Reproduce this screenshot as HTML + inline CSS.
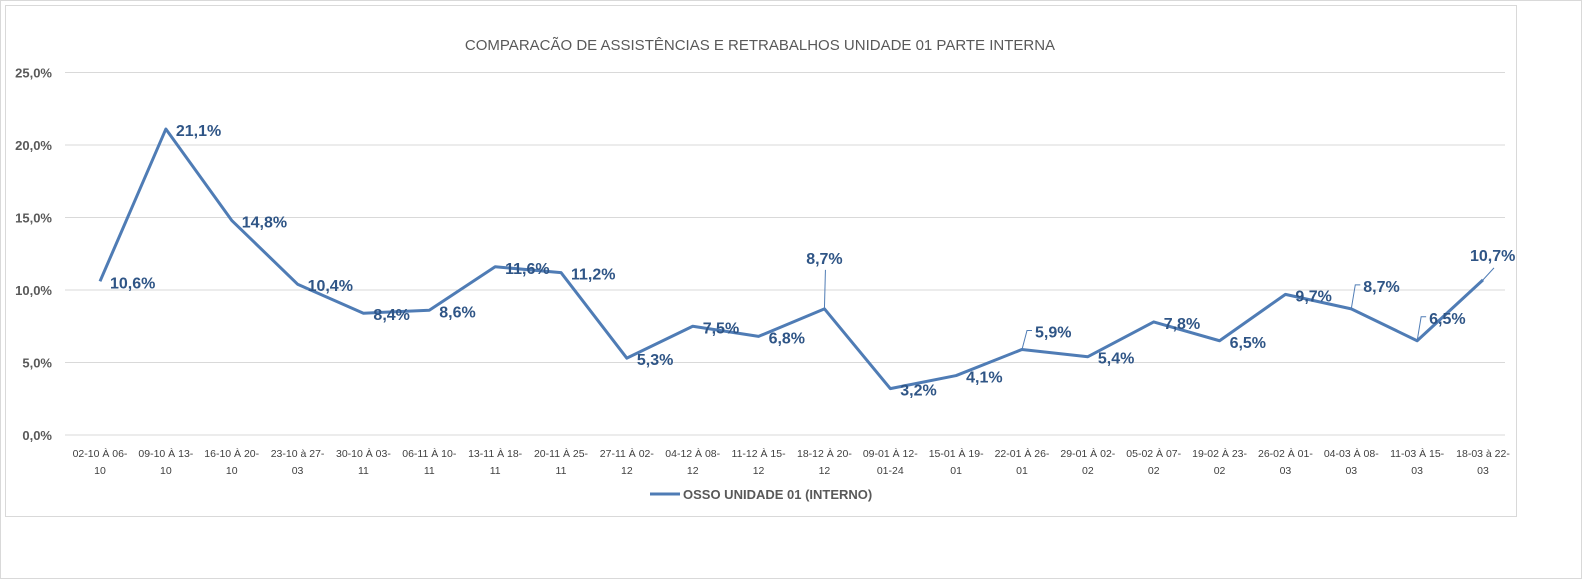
<!DOCTYPE html>
<html><head><meta charset="utf-8"><style>
body{margin:0;background:#fff;font-family:"Liberation Sans",sans-serif}
svg text{font-family:"Liberation Sans",sans-serif}
</style></head><body>
<svg id="c" width="1582" height="579">
<rect x="0.5" y="0.5" width="1581" height="578" fill="#fff" stroke="#d9d9d9"/>
<rect x="5.5" y="5.5" width="1511" height="511" fill="#fff" stroke="#d9d9d9"/>
<text x="760" y="50" text-anchor="middle" font-size="15" fill="#595959">COMPARACÃO DE ASSISTÊNCIAS E RETRABALHOS UNIDADE 01 PARTE INTERNA</text>
<g id="grid"></g><g id="xl"></g><g id="series"></g><g id="labels"></g>
<line x1="650" y1="494" x2="680" y2="494" stroke="#4f7cb5" stroke-width="3"/>
<text x="683" y="499" font-size="13" font-weight="bold" fill="#595959">OSSO UNIDADE 01 (INTERNO)</text>
</svg>
<script>
const categories1=["02-10 À 06-","09-10 À 13-","16-10 À 20-","23-10 à 27-","30-10 À 03-","06-11 À 10-","13-11 À 18-","20-11 À 25-","27-11 À 02-","04-12 À 08-","11-12 À 15-","18-12 À 20-","09-01 À 12-","15-01 À 19-","22-01 À 26-","29-01 À 02-","05-02 À 07-","19-02 À 23-","26-02 À 01-","04-03 À 08-","11-03 À 15-","18-03 à 22-"];
const categories2=["10","10","10","03","11","11","11","11","12","12","12","12","01-24","01","01","02","02","02","03","03","03","03"];
const values=[10.6,21.1,14.8,10.4,8.4,8.6,11.6,11.2,5.3,7.5,6.8,8.7,3.2,4.1,5.9,5.4,7.8,6.5,9.7,8.7,6.5,10.7];
const yTicks=[0,5,10,15,20,25];
const NS="http://www.w3.org/2000/svg";
const x=i=>100+i*(1483-100)/(values.length-1);
const y=v=>435-v*(435-72.5)/25;
const fmt=v=>v.toFixed(1).replace('.',',')+'%';
function mk(t,a,p){const e=document.createElementNS(NS,t);for(const k in a)e.setAttribute(k,a[k]);p.appendChild(e);return e;}
const g=document.getElementById('grid');
yTicks.forEach(t=>{
 const l=mk('line',{x1:65,x2:1505,y1:y(t),y2:y(t),stroke:'#d9d9d9'},g);
 
 
 const tx=mk('text',{x:52,y:y(t)+5,'text-anchor':'end','font-size':13,'font-weight':'bold',fill:'#595959'},g);
 tx.textContent=t.toFixed(1).replace('.',',')+'%';
 
 
});
const xl=document.getElementById('xl');
categories1.forEach((c,i)=>{
 const t=mk('text',{x:x(i),y:457,'text-anchor':'middle','font-size':10.5,fill:'#404040'},xl);
 t.textContent=c;
 
 
 const t2=mk('text',{x:x(i),y:474,'text-anchor':'middle','font-size':10.5,fill:'#404040'},xl);
 t2.textContent=categories2[i];
 
 
});
const p=mk('polyline',{points:values.map((v,i)=>x(i)+','+y(v)).join(' '),fill:'none',stroke:'#4f7cb5','stroke-width':3,'stroke-linejoin':'round'},document.getElementById('series'));


const lg=document.getElementById('labels');
function leader(pts){
 const ln=mk('polyline',{points:pts.map(q=>q.join(',')).join(' '),fill:'none',stroke:'#4f7cb5','stroke-width':1},lg);
 
 
}
values.forEach((v,i)=>{
 const px=x(i), py=y(v);
 let lx=px+10, ly=py+7, anchor='start';
 if(i===11){anchor='middle';lx=px;ly=py-45;leader([[px,py],[px+1,py-39]]);}
 else if(i===14){leader([[px,py],[px+5,py-19],[px+10,py-19]]);lx=px+13;ly=py-12;}
 else if(i===19||i===20){leader([[px,py],[px+4,py-24],[px+9,py-24]]);lx=px+12;ly=py-17;}
 else if(i===21){leader([[px,py],[px+11,py-12]]);lx=px-13;ly=py-19;}
 const t=mk('text',{x:lx,y:ly,'text-anchor':anchor,'font-size':16,'font-weight':'bold',fill:'#2f5586'},lg);
 t.textContent=fmt(v);
 
 
});
</script>
</body></html>
